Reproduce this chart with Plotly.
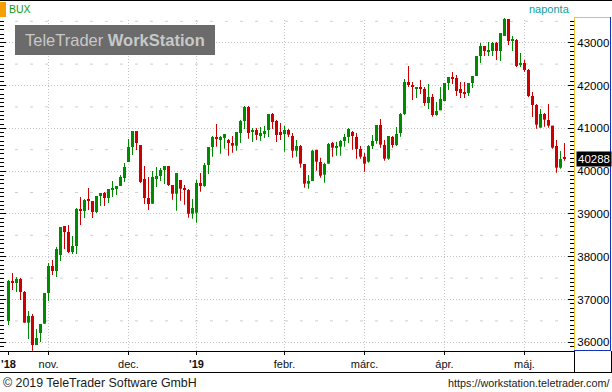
import pandas as pd
import plotly.graph_objects as go

# ---- data (BUX daily candles) ----
open_ = [36498, 37432, 37386, 37479, 37175, 36459, 36615, 35937, 36217, 36436,
         37152, 37783, 37666, 38040, 38717, 38577, 38110, 38250, 39115, 39068,
         39325, 39302, 39044, 39418, 39488, 39372, 39559, 39582, 39652, 39839,
         40213, 40563, 40937, 40610, 39816, 39372, 39239, 39815, 39885, 40025,
         40119, 39675, 39472, 39792, 39581, 39558, 39005, 39028, 39722, 39651,
         40142, 40563, 40796, 40726, 40773, 40726, 40656, 40594, 40890, 41170,
         41497, 40913, 40960, 40820, 40890, 40960, 41334, 41170, 40913, 40866,
         40960, 40820, 40477, 40586, 40166, 39706, 39769, 40493, 40213, 39917,
         40174, 40657, 40547, 40571, 40703, 40797, 40914, 40797, 40516, 40337,
         40220, 40586, 40703, 41077, 40610, 40290, 40797, 40610, 40890, 41334,
         42082, 42012, 41926, 41965, 41918, 41591, 41731, 41311, 41420, 41638,
         42058, 42199, 42175, 41918, 41825, 41825, 42058, 42222, 42689, 42923,
         42791, 42806, 42993, 42806, 43157, 43554, 43048, 43063, 42487, 42526,
         42362, 41755, 41544, 41015, 41334, 41194, 41062, 40586, 40080, 40306]
high = [37456, 37619, 37526, 37502, 37199, 36731, 36661, 36311, 36428, 37152,
        37853, 37923, 38227, 38694, 38717, 38741, 38484, 39138, 39395, 39348,
        39605, 39302, 39418, 39488, 39512, 39582, 39769, 39652, 39909, 40189,
        40750, 40937, 40937, 40610, 40119, 39862, 40002, 40095, 40072, 40119,
        40119, 39675, 39955, 39792, 39675, 39581, 39348, 39792, 39955, 40189,
        40563, 40820, 41100, 40820, 40866, 40750, 40820, 40913, 41193, 41521,
        41521, 41007, 41007, 41030, 41053, 41334, 41357, 41193, 41123, 41053,
        40983, 40890, 40727, 40610, 40166, 39909, 40501, 40501, 40314, 40197,
        40657, 40680, 40680, 40727, 40867, 41007, 40937, 40890, 40586, 40423,
        40610, 40843, 41077, 41217, 40727, 40820, 40820, 41030, 41357, 42152,
        42456, 42082, 41965, 42128, 41965, 42035, 41801, 41614, 41965, 42058,
        42199, 42315, 42245, 42082, 42082, 42058, 42222, 42689, 42993, 42923,
        43016, 43016, 43016, 43227, 43577, 43554, 43157, 43086, 42759, 42596,
        42386, 41848, 41568, 41451, 41358, 41568, 41062, 40727, 40470, 40657]
low = [36404, 37222, 37175, 36988, 36459, 36077, 35805, 35937, 36007, 36436,
       36965, 37573, 37526, 37900, 38180, 38087, 38063, 38063, 38741, 38904,
       39091, 38904, 39021, 39185, 39185, 39255, 39395, 39442, 39652, 39745,
       40213, 40376, 40493, 39722, 39231, 39091, 39239, 39628, 39768, 39698,
       39651, 39332, 39075, 39309, 39215, 38912, 38888, 38795, 39519, 39636,
       39932, 40337, 40570, 40407, 40524, 40360, 40430, 40477, 40656, 40983,
       40757, 40679, 40726, 40711, 40773, 40796, 40983, 40679, 40726, 40454,
       40796, 40313, 40337, 40080, 39613, 39590, 39769, 40010, 39847, 39730,
       40174, 40337, 40361, 40361, 40571, 40657, 40501, 40290, 40290, 39987,
       40197, 40516, 40641, 40547, 40244, 40267, 40547, 40586, 40804, 41311,
       41965, 41661, 41708, 41801, 41529, 41451, 41272, 41295, 41420, 41638,
       41895, 42035, 41755, 41708, 41708, 41755, 41942, 42222, 42526, 42689,
       42689, 42689, 42596, 42572, 43157, 42946, 42806, 42432, 42432, 42315,
       41731, 41264, 40991, 41015, 41038, 41015, 40524, 39963, 40057, 40244]
close = [37432, 37393, 37479, 37175, 36459, 36615, 35937, 36101, 36428, 37152,
         37783, 37666, 38180, 38694, 38577, 38110, 38250, 39115, 39068, 39325,
         39302, 39044, 39418, 39488, 39372, 39582, 39582, 39652, 39862, 40096,
         40563, 40937, 40657, 39745, 39372, 39231, 39862, 39885, 40025, 40119,
         39675, 39472, 39955, 39589, 39566, 39005, 39137, 39722, 39651, 40142,
         40563, 40796, 40773, 40796, 40866, 40656, 40594, 40913, 41170, 41497,
         40890, 40960, 40843, 40890, 40936, 41334, 41147, 40843, 40843, 40960,
         40851, 40477, 40586, 40174, 39706, 39769, 40477, 40220, 39893, 40166,
         40633, 40547, 40571, 40703, 40797, 40984, 40820, 40516, 40337, 40174,
         40586, 40703, 41077, 40618, 40290, 40820, 40610, 40867, 41334, 42082,
         42012, 41965, 41942, 41918, 41591, 41731, 41311, 41404, 41685, 42058,
         42199, 42175, 41872, 41825, 41817, 42058, 42222, 42689, 42923, 42806,
         42806, 42993, 42806, 43227, 43554, 43040, 43063, 42456, 42502, 42362,
         41755, 41544, 41085, 41334, 41202, 41062, 40548, 40080, 40283, 40288]

# trading calendar (Budapest Stock Exchange holidays in the period)
holidays = ["2018-10-22", "2018-10-23", "2018-11-01", "2018-11-02",
            "2018-12-24", "2018-12-25", "2018-12-26", "2018-12-31",
            "2019-01-01", "2019-03-15", "2019-04-19", "2019-04-22", "2019-05-01"]
month_names = {1: "jan.", 2: "febr.", 3: "márc.", 4: "ápr.", 5: "máj.", 6: "jún.",
               7: "júl.", 8: "aug.", 9: "szept.", 10: "okt.", 11: "nov.", 12: "dec."}
title_text = "BUX"
period_text = "naponta"

dates = pd.bdate_range("2018-10-16", "2019-05-16", freq="C", holidays=holidays)
n = min(len(dates), len(close))
dates = dates[:n]
xs = list(range(n))
o, h, l, c = open_[:n], high[:n], low[:n], close[:n]

# month start ticks
tick_idx, tick_txt = [0], ["<b>'%s</b>" % str(dates[0].year)[2:]]
for i in range(1, n):
    if dates[i].month != dates[i - 1].month:
        tick_idx.append(i)
        if dates[i].month == 1:
            tick_txt.append("<b>'%s</b>" % str(dates[i].year)[2:])
        else:
            tick_txt.append(month_names[dates[i].month])

GREEN = "#008a00"
RED = "#cc0000"
cols = [GREEN if cc >= oo else RED for oo, cc in zip(o, c)]
body_base = [min(oo, cc) for oo, cc in zip(o, c)]
body_h = [max(abs(cc - oo), 24) for oo, cc in zip(o, c)]
wick_h = [hh - ll for hh, ll in zip(h, l)]

fig = go.Figure()
fig.add_trace(go.Bar(x=xs, y=wick_h, base=l, width=0.25,
                     marker=dict(color=cols, line=dict(width=0)), hoverinfo="skip"))
fig.add_trace(go.Bar(x=xs, y=body_h, base=body_base, width=0.75,
                     marker=dict(color=cols, line=dict(width=0)), hoverinfo="skip"))

W, H = 612, 392
PL, PR, PT, PB = 0, 574, 18, 351   # plot area in pixels


def fx(px):
    return (px - PL) / (PR - PL)


def fy(py):
    return (PB - py) / (PB - PT)


GRID = "#c4c4c4"
shapes = []
# half-level dashed grid lines
for v in range(36500, 44000, 1000):
    shapes.append(dict(type="line", xref="paper", yref="y", x0=0, x1=1, y0=v, y1=v,
                       line=dict(color="#cfcfcf", width=1, dash="3px,12px"), layer="below"))
# vertical month grid lines
for i in tick_idx[1:]:
    shapes.append(dict(type="line", xref="x", yref="paper", x0=i, x1=i, y0=0, y1=1,
                       line=dict(color=GRID, width=1, dash="1px,2px"), layer="below"))


def pline(x0, y0, x1, y1, color, width=1):
    shapes.append(dict(type="line", xref="paper", yref="paper",
                       x0=fx(x0), y0=fy(y0), x1=fx(x1), y1=fy(y1),
                       line=dict(color=color, width=width), layer="above"))


def prect(x0, y0, x1, y1, color):
    shapes.append(dict(type="rect", xref="paper", yref="paper",
                       x0=fx(x0), y0=fy(y0), x1=fx(x1), y1=fy(y1),
                       fillcolor=color, line=dict(width=0), layer="above"))


# frame decorations
pline(0, 0.5, 612, 0.5, "#000000")
prect(0, 2, 6, 17, "#f5a000")
pline(574, 17.5, 611, 17.5, "#f0c030")
pline(574.5, 17, 574.5, 351, "#f0c030")
pline(610.5, 17, 610.5, 351, "#1030c0")
pline(574, 350.5, 611, 350.5, "#1030c0")
pline(0, 372.5, 612, 372.5, "#000000")
pline(574.5, 351, 574.5, 373, "#000000")
pline(611.5, 351, 611.5, 373, "#000000")
# watermark box
prect(15, 25, 215, 55, "#6b6b6b")

FONT = "Arial, Liberation Sans, sans-serif"
annotations = [
    dict(text=title_text, x=fx(7), y=fy(9.5), xref="paper", yref="paper",
         xanchor="left", yanchor="middle", showarrow=False,
         font=dict(family=FONT, size=10.5, color="#119911")),
    dict(text=period_text, x=fx(572), y=fy(9.5), xref="paper", yref="paper",
         xanchor="right", yanchor="middle", showarrow=False,
         font=dict(family=FONT, size=11, color="#109e96")),
    dict(text="TeleTrader <b>WorkStation</b>", x=fx(115), y=fy(40), xref="paper", yref="paper",
         xanchor="center", yanchor="middle", showarrow=False,
         font=dict(family=FONT, size=16.5, color="#c8c8c8")),
    dict(text="© 2019 TeleTrader Software GmbH", x=fx(1), y=fy(383), xref="paper", yref="paper",
         xanchor="left", yanchor="middle", showarrow=False,
         font=dict(family=FONT, size=12.4, color="#1a1a1a")),
    dict(text="https://workstation.teletrader.com/", x=fx(611), y=fy(383), xref="paper", yref="paper",
         xanchor="right", yanchor="middle", showarrow=False,
         font=dict(family=FONT, size=10.8, color="#1a1a1a")),
    dict(text=str(c[-1]), x=fx(576), y=c[-1], xref="paper", yref="y",
         xanchor="left", yanchor="middle", showarrow=False, bgcolor="#000000",
         borderpad=1, font=dict(family=FONT, size=11.5, color="#ffffff")),
]

fig.update_layout(
    width=W, height=H, autosize=False,
    margin=dict(l=PL, r=W - PR, t=PT, b=H - PB, pad=0),
    paper_bgcolor="white", plot_bgcolor="white",
    showlegend=False, barmode="overlay",
    xaxis=dict(range=[-2.125, -2.125 + (PR - PL) / 4.0], tickvals=tick_idx, ticktext=tick_txt,
               ticks="outside", ticklen=3, tickcolor="black", showline=True, linecolor="black",
               linewidth=1, showgrid=False, zeroline=False,
               tickfont=dict(family=FONT, size=11, color="#111111")),
    yaxis=dict(side="right", range=[35797, 43577], dtick=1000, tick0=0, tickformat="d",
               ticks="inside", ticklen=6, tickcolor="black", showline=True, linecolor="black",
               linewidth=1, mirror="ticks", showgrid=True, gridcolor=GRID, griddash="1px,2px",
               gridwidth=1, zeroline=False,
               tickfont=dict(family=FONT, size=11.5, color="#000000"),
               minor=dict(dtick=100, ticks="inside", ticklen=4, tickcolor="black", showgrid=False)),
    shapes=shapes,
    annotations=annotations,
)

fig.write_html("out.html", config={"displayModeBar": False},
               post_script="document.body.style.margin='0px';document.body.style.overflow='hidden';")
